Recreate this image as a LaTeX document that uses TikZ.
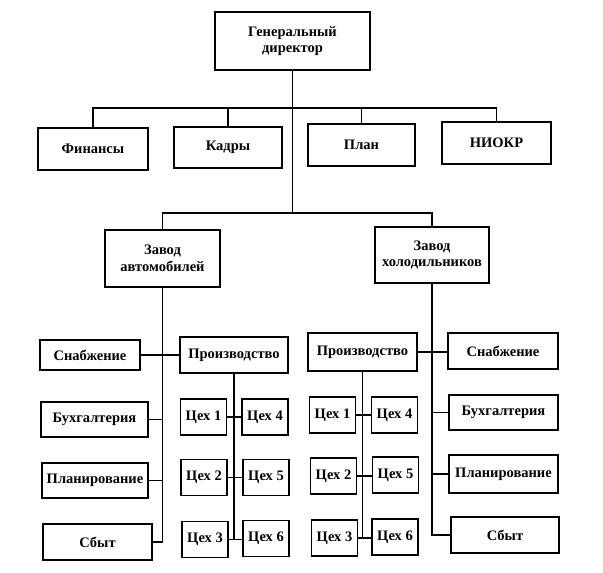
\documentclass[tikz,border=0pt]{standalone}
\usepackage{fontspec}
\setmainfont{Liberation Serif}

\begin{document}
\begin{tikzpicture}[x=1pt,y=-1pt,line width=1.7pt,
    box/.style={draw,rectangle,inner sep=1pt,align=center,font=\fontsize{14.5}{16.5}\selectfont\bfseries},
    shop/.style={box,minimum width=46pt,minimum height=36pt}]
  \useasboundingbox (0,0) rectangle (603,573);

  \node[box,minimum width=155pt,minimum height=58pt] (gen) at (292.5,41) {Генеральный\\директор};

  \node[box,minimum width=110pt,minimum height=42pt] (fin) at (93,149) {Финансы};
  \node[box,minimum width=108pt,minimum height=41pt] (kadr) at (228,147.5) {Кадры};
  \node[box,minimum width=107pt,minimum height=42pt] (plan) at (361.5,145) {План};
  \node[box,minimum width=109pt,minimum height=42pt] (niokr) at (496.5,143) {НИОКР};

  \node[box,minimum width=115pt,minimum height=57pt] (zavA) at (162.5,258.5) {Завод\\автомобилей};
  \node[box,minimum width=114pt,minimum height=56pt] (zavK) at (432,255) {Завод\\холодильников};

  % left plant
  \node[box,minimum width=100pt,minimum height=30pt] (snabA) at (90,355) {Снабжение};
  \node[box,minimum width=107pt,minimum height=35pt] (buhA) at (94.5,419.5) {Бухгалтерия};
  \node[box,minimum width=106pt,minimum height=35pt] (planA) at (95,480.5) {Планирование};
  \node[box,minimum width=109pt,minimum height=36pt] (sbytA) at (97.5,542) {Сбыт};
  \node[box,minimum width=108pt,minimum height=36pt] (proA) at (234,355) {Производство};
  \node[shop] (c1A) at (203.5,417) {Цех 1};
  \node[shop] (c4A) at (265,417) {Цех 4};
  \node[shop] (c2A) at (204,477.5) {Цех 2};
  \node[shop] (c5A) at (266,477.5) {Цех 5};
  \node[shop] (c3A) at (205,539.5) {Цех 3};
  \node[shop] (c6A) at (266,538.5) {Цех 6};

  % right plant
  \node[box,minimum width=109pt,minimum height=38pt] (proK) at (362.5,352) {Производство};
  \node[box,minimum width=110pt,minimum height=36pt] (snabK) at (503,351) {Снабжение};
  \node[box,minimum width=109pt,minimum height=35pt] (buhK) at (503.5,412.5) {Бухгалтерия};
  \node[box,minimum width=109pt,minimum height=38pt] (planK) at (503.5,474) {Планирование};
  \node[box,minimum width=108pt,minimum height=36pt] (sbytK) at (505,535) {Сбыт};
  \node[shop] (c1K) at (332.5,415) {Цех 1};
  \node[shop] (c4K) at (394.5,415) {Цех 4};
  \node[shop] (c2K) at (333.5,476) {Цех 2};
  \node[shop] (c5K) at (395.5,475) {Цех 5};
  \node[shop] (c3K) at (334.5,538) {Цех 3};
  \node[shop] (c6K) at (395,537) {Цех 6};

  \coordinate (topbus) at (294,108);
  \coordinate (midbus) at (294,213);

  \draw (gen.south) -- (gen.south |- midbus);
  \draw (fin.north) |- (topbus) -| (niokr.north);
  \draw (kadr.north) -- (kadr.north |- topbus);
  \draw (plan.north) -- (plan.north |- topbus);
  \draw (zavA.north) |- (midbus) -| (zavK.north);

  \draw (zavA.south) |- (sbytA.east);
  \draw (snabA.east) -- (proA.west);
  \draw (buhA.east) -- (buhA.east -| zavA.south);
  \draw (planA.east) -- (planA.east -| zavA.south);
  \draw (proA.south) -- (proA.south |- c3A.east);
  \draw (c1A.east) -- (c1A.east -| c4A.west);
  \draw (c2A.east) -- (c2A.east -| c5A.west);
  \draw (c3A.east) -- (c3A.east -| c6A.west);

  \draw (zavK.south) |- (sbytK.west);
  \draw (proK.east) -- (proK.east -| snabK.west);
  \draw (buhK.west) -- (buhK.west -| zavK.south);
  \draw (planK.west) -- (planK.west -| zavK.south);
  \draw (proK.south) -- (proK.south |- c3K.east);
  \draw (c1K.east) -- (c1K.east -| c4K.west);
  \draw (c2K.east) -- (c2K.east -| c5K.west);
  \draw (c3K.east) -- (c3K.east -| c6K.west);
\end{tikzpicture}
\end{document}
